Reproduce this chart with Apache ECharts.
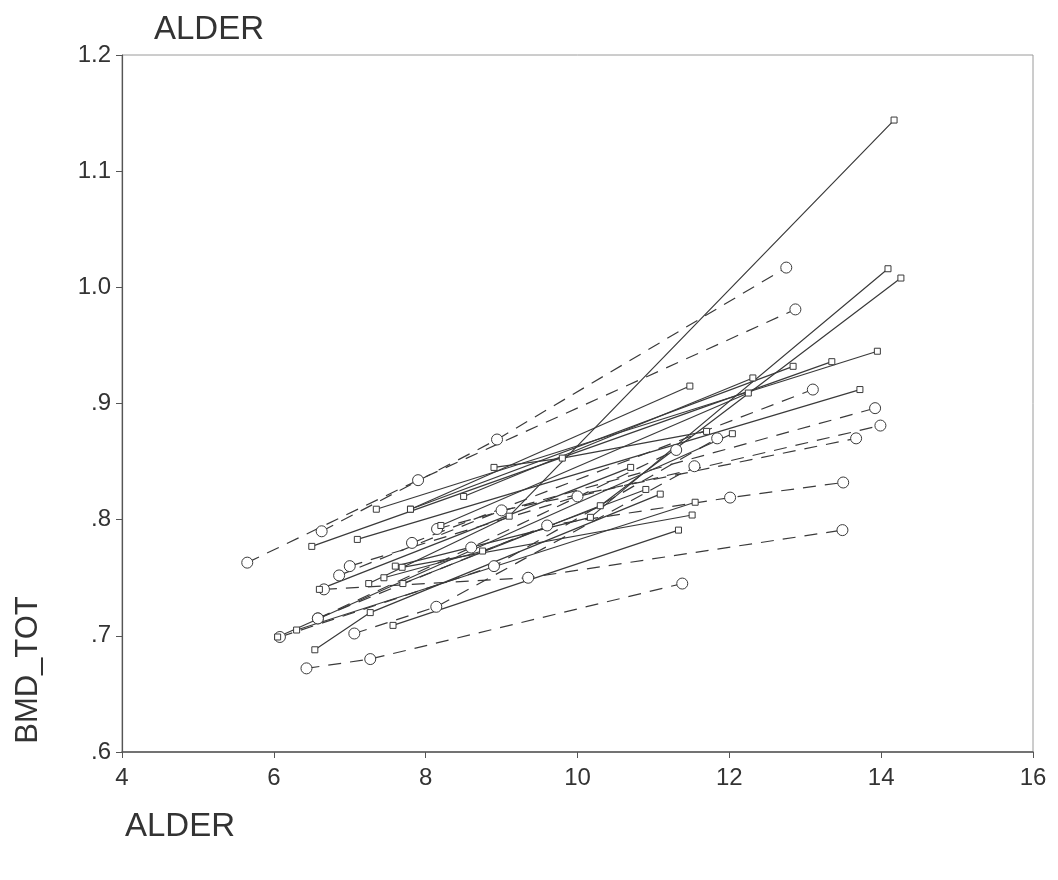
<!DOCTYPE html>
<html>
<head>
<meta charset="utf-8">
<script src="https://cdn.jsdelivr.net/npm/echarts@6/dist/echarts.min.js"></script>
<style>html,body{margin:0;padding:0;background:#fff}#c{width:1058px;height:880px}</style>
</head>
<body>
<div id="c"></div>
<script>
// Girls: dashed lines with circles
const girlAges = [
  [6.63, 8.94, 12.75],
  [5.65, 7.90, 12.87],
  [7.82, 13.10],
  [8.15, 13.92],
  [7.00, 10.00, 13.99],
  [6.86, 9.00, 13.67],
  [6.58, 9.60, 12.01, 13.50],
  [6.66, 9.35, 13.49],
  [6.43, 7.27, 11.38],
  [7.06, 8.14, 11.54],
  [6.58, 8.60, 11.30],
  [6.08, 8.90, 11.84]
];
const girlBmd = [
  [0.790, 0.869, 1.017],
  [0.763, 0.834, 0.981],
  [0.780, 0.912],
  [0.792, 0.896],
  [0.760, 0.820, 0.881],
  [0.752, 0.808, 0.870],
  [0.715, 0.795, 0.819, 0.832],
  [0.740, 0.750, 0.791],
  [0.672, 0.680, 0.745],
  [0.702, 0.725, 0.846],
  [0.715, 0.776, 0.860],
  [0.699, 0.760, 0.870]
];
// Boys: solid lines with squares
const boyAges = [
  [7.25, 9.10, 14.17],
  [7.60, 10.17, 14.09],
  [7.70, 10.30, 14.26],
  [7.35, 13.95],
  [6.50, 13.35],
  [7.80, 12.84],
  [7.10, 13.72],
  [7.80, 11.48],
  [6.05, 12.04],
  [6.30, 11.55],
  [6.54, 7.27, 11.09],
  [7.57, 11.33],
  [7.69, 11.51],
  [8.50, 12.31],
  [8.20, 12.25],
  [6.60, 10.70],
  [8.90, 9.80, 11.70],
  [7.45, 8.75, 10.90]
];
const boyBmd = [
  [0.745, 0.803, 1.144],
  [0.760, 0.802, 1.016],
  [0.745, 0.812, 1.008],
  [0.809, 0.945],
  [0.777, 0.936],
  [0.809, 0.932],
  [0.783, 0.912],
  [0.809, 0.915],
  [0.699, 0.874],
  [0.705, 0.815],
  [0.688, 0.720, 0.822],
  [0.709, 0.791],
  [0.759, 0.804],
  [0.820, 0.922],
  [0.795, 0.909],
  [0.740, 0.845],
  [0.845, 0.853, 0.876],
  [0.750, 0.773, 0.826]
];
const xTicks = [4, 6, 8, 10, 12, 14, 16];
const yTicks = [0.6, 0.7, 0.8, 0.9, 1.0, 1.1, 1.2];

const lineColor = '#3a3a3a';
const series = [];
girlAges.forEach((ages, i) => {
  series.push({
    type: 'line',
    data: ages.map((a, j) => [a, girlBmd[i][j]]),
    symbol: 'circle', symbolSize: 11,
    itemStyle: { color: '#fff', borderColor: lineColor, borderWidth: 1 },
    lineStyle: { color: lineColor, width: 1.2, type: [13, 9] },
    silent: true, animation: false
  });
});
boyAges.forEach((ages, i) => {
  series.push({
    type: 'line',
    data: ages.map((a, j) => [a, boyBmd[i][j]]),
    symbol: 'rect', symbolSize: 6,
    itemStyle: { color: '#fff', borderColor: lineColor, borderWidth: 1 },
    lineStyle: { color: lineColor, width: 1.2, type: 'solid' },
    silent: true, animation: false
  });
});

const chart = echarts.init(document.getElementById('c'));
const fam = '"Liberation Sans", Arial, sans-serif';
chart.setOption({
  animation: false,
  backgroundColor: '#fff',
  grid: { left: 122, right: 25, top: 55, bottom: 128, show: true, borderColor: '#9a9a9a', borderWidth: 1 },
  xAxis: {
    type: 'value', min: xTicks[0], max: xTicks[xTicks.length - 1], interval: 2,
    axisLine: { show: true, lineStyle: { color: '#555', width: 1.5 } },
    axisTick: { show: true, length: 6, lineStyle: { color: '#555' } },
    axisLabel: { color: '#333', fontSize: 24, fontFamily: fam, margin: 14 },
    splitLine: { show: false }
  },
  yAxis: {
    type: 'value', min: yTicks[0], max: yTicks[yTicks.length - 1], interval: 0.1,
    axisLine: { show: true, lineStyle: { color: '#555', width: 1.2 } },
    axisTick: { show: true, length: 6, lineStyle: { color: '#555' } },
    axisLabel: {
      color: '#333', fontSize: 24, fontFamily: fam, margin: 11,
      formatter: v => { const s = (Math.round(v * 10) / 10).toFixed(1); return s.startsWith('0') ? s.slice(1) : s; }
    },
    splitLine: { show: false }
  },
  graphic: [
    { type: 'text', left: 154, top: 13, style: { text: 'ALDER', font: '33px ' + fam, fill: '#333' } },
    { type: 'text', left: 125, top: 810, style: { text: 'ALDER', font: '33px ' + fam, fill: '#333' } },
    { type: 'text', x: 13, y: 670, rotation: Math.PI / 2, style: { text: 'BMD_TOT', font: '31px ' + fam, fill: '#333', align: 'center', verticalAlign: 'top' } }
  ],
  series: series
});
</script>
</body>
</html>
